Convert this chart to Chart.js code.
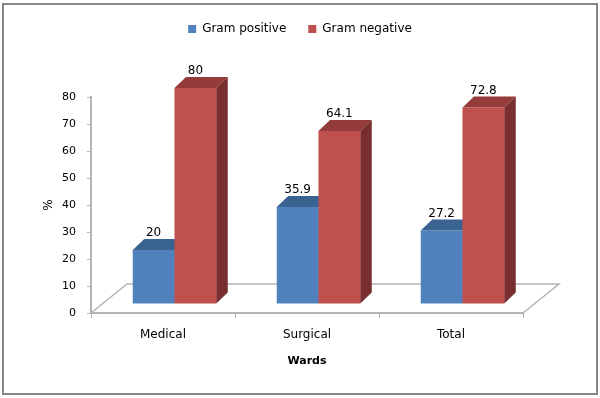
<!DOCTYPE html>
<html>
<head>
<meta charset="utf-8">
<script src="https://cdn.jsdelivr.net/npm/chart.js@4.4.1/dist/chart.umd.min.js"></script>
<style>
  html, body { margin: 0; padding: 0; background: #fff; }
  canvas { display: block; }
</style>
</head>
<body>
<canvas id="chart" width="600" height="398"></canvas>
<script>
  // data
  const categories = ['Medical', 'Surgical', 'Total'];
  const gramPositive = [20, 35.9, 27.2];
  const gramNegative = [80, 64.1, 72.8];
  const yTicks = [0, 10, 20, 30, 40, 50, 60, 70, 80];

  const FONT = '"DejaVu Sans", Verdana, sans-serif';

  // 3D projection offsets (pixels)
  const SHIFT = { x: 11.5, y: -9 };   // bars sit a third of the way back
  const DEPTH = { x: 11.5, y: -11 };  // bar depth
  const FLOOR = { x: 36, y: -29 };    // floor depth

  // give legend some room under it
  const legendGap = {
    id: 'legendGap',
    beforeInit(chart) {
      const fit = chart.legend.fit;
      chart.legend.fit = function() { fit.call(this); this.height += 52; };
    }
  };

  const frame = {
    id: 'frame',
    beforeDraw(chart) {
      const ctx = chart.ctx;
      ctx.save();
      ctx.strokeStyle = '#878787';
      ctx.lineWidth = 2;
      ctx.strokeRect(3, 4, 594, 390);
      ctx.restore();
    }
  };

  function poly(ctx, pts, color) {
    ctx.beginPath();
    ctx.moveTo(pts[0][0], pts[0][1]);
    for (let i = 1; i < pts.length; i++) ctx.lineTo(pts[i][0], pts[i][1]);
    ctx.closePath();
    ctx.fillStyle = color;
    ctx.fill();
  }

  const bars3d = {
    id: 'bars3d',
    beforeDatasetsDraw(chart) {
      const ctx = chart.ctx;
      const a = chart.chartArea;

      // floor outline
      ctx.save();
      ctx.strokeStyle = '#b4b4b4';
      ctx.lineWidth = 1.5;
      ctx.beginPath();
      ctx.moveTo(a.left, a.bottom);
      ctx.lineTo(a.left + FLOOR.x, a.bottom + FLOOR.y);
      ctx.lineTo(a.right + FLOOR.x, a.bottom + FLOOR.y);
      ctx.lineTo(a.right, a.bottom);
      ctx.stroke();

      const sets = chart.data.datasets;
      const labels = [];
      categories.forEach((c, i) => {
        sets.forEach((ds, di) => {
          const el = chart.getDatasetMeta(di).data[i];
          const l = el.x - el.width / 2 + SHIFT.x;
          const r = el.x + el.width / 2 + SHIFT.x;
          const t = el.y + SHIFT.y;
          const b = el.base + SHIFT.y;
          poly(ctx, [[l, t], [r, t], [r, b], [l, b]], ds.backgroundColor);
          poly(ctx, [[l, t], [l + DEPTH.x, t + DEPTH.y], [r + DEPTH.x, t + DEPTH.y], [r, t]], ds.topColor);
          poly(ctx, [[r, t], [r + DEPTH.x, t + DEPTH.y], [r + DEPTH.x, b + DEPTH.y], [r, b]], ds.sideColor);
          labels.push({ text: String(ds.data[i]), x: (l + r) / 2, y: t + DEPTH.y - 6 });
        });
      });

      // value labels
      ctx.fillStyle = '#000';
      ctx.font = '12px ' + FONT;
      ctx.textAlign = 'center';
      ctx.textBaseline = 'middle';
      labels.forEach(lb => ctx.fillText(lb.text, lb.x, lb.y));
      ctx.restore();
      return false;
    }
  };

  new Chart(document.getElementById('chart'), {
    type: 'bar',
    data: {
      labels: categories,
      datasets: [
        {
          label: 'Gram positive',
          data: gramPositive,
          backgroundColor: '#4f81bd',
          topColor: '#3b6392',
          sideColor: '#385d8a'
        },
        {
          label: 'Gram negative',
          data: gramNegative,
          backgroundColor: '#c0504d',
          topColor: '#953c3a',
          sideColor: '#772e2c'
        }
      ]
    },
    options: {
      responsive: false,
      animation: false,
      layout: { padding: { top: 1, right: 0, bottom: 0, left: 0 } },
      datasets: { bar: { categoryPercentage: 0.58, barPercentage: 1 } },
      plugins: {
        legend: {
          position: 'top',
          labels: {
            boxWidth: 8,
            boxHeight: 8,
            padding: 22,
            color: '#000',
            font: { family: FONT, size: 12 }
          }
        },
        tooltip: { enabled: false }
      },
      scales: {
        x: {
          afterFit(s) { s.height = 85; },
          grid: {
            offset: true,
            drawOnChartArea: false,
            drawTicks: true,
            tickLength: 5,
            color: '#b4b4b4'
          },
          border: { color: '#b4b4b4', width: 2 },
          ticks: { color: '#000', padding: 10, font: { family: FONT, size: 12 } },
          title: {
            display: true,
            text: 'Wards',
            color: '#000',
            font: { family: FONT, size: 11, weight: 'bold' },
            padding: { top: 0, bottom: 30 }
          }
        },
        y: {
          min: 0,
          max: 80,
          afterFit(s) { s.width = 91; },
          afterBuildTicks(s) { s.ticks = yTicks.map(v => ({ value: v })); },
          grid: {
            drawOnChartArea: false,
            drawTicks: true,
            tickLength: 4,
            color: '#b4b4b4'
          },
          border: { color: '#b4b4b4', width: 2 },
          ticks: { color: '#000', padding: 11, font: { family: FONT, size: 11 } },
          title: {
            display: true,
            text: '%',
            color: '#000',
            font: { family: FONT, size: 12 },
            padding: { top: 42, bottom: 0 }
          }
        },
        // empty space on the right, room for the floor depth
        pad: {
          position: 'right',
          afterFit(s) { s.width = 77; },
          grid: { display: false },
          border: { display: false },
          ticks: { display: false }
        }
      }
    },
    plugins: [legendGap, frame, bars3d]
  });
</script>
</body>
</html>
